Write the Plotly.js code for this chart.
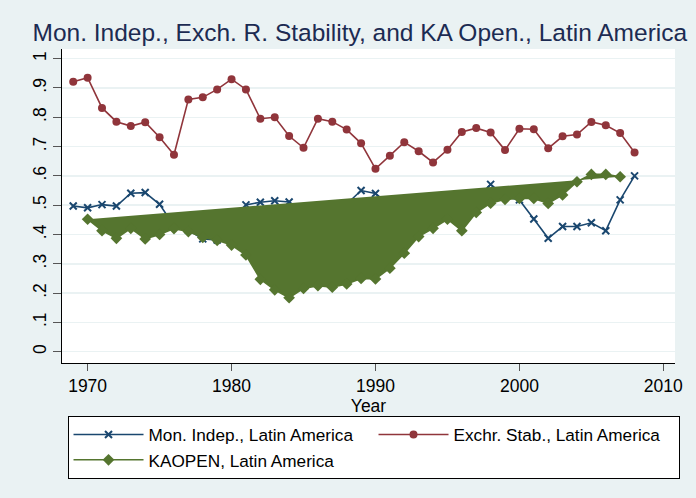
<!DOCTYPE html>
<html>
<head>
<meta charset="utf-8">
<script src="https://cdn.plot.ly/plotly-3.0.1.min.js"></script>
<style>html,body{margin:0;padding:0;background:#eaf2f3;}#chart{width:696px;height:498px;}</style>
</head>
<body>
<div id="chart"></div>
<script>
var years = [1969,1970,1971,1972,1973,1974,1975,1976,1977,1978,1979,1980,1981,1982,1983,1984,1985,1986,1987,1988,1989,1990,1991,1992,1993,1994,1995,1996,1997,1998,1999,2000,2001,2002,2003,2004,2005,2006,2007,2008];
var monIndep = [0.497,0.491,0.502,0.497,0.541,0.543,0.503,0.43,0.415,0.385,0.381,0.42,0.501,0.51,0.515,0.511,0.48,0.47,0.49,0.504,0.55,0.54,0.50,0.49,0.47,0.48,0.50,0.49,0.52,0.571,0.53,0.518,0.453,0.387,0.427,0.427,0.440,0.413,0.518,0.600];
var exchStab = [0.921,0.935,0.832,0.785,0.770,0.783,0.732,0.672,0.861,0.868,0.895,0.930,0.895,0.795,0.800,0.736,0.696,0.795,0.785,0.758,0.711,0.624,0.669,0.715,0.684,0.646,0.689,0.750,0.763,0.748,0.688,0.761,0.759,0.694,0.735,0.741,0.784,0.773,0.746,0.680];
var kaYears = [1970,1971,1972,1973,1974,1975,1976,1977,1978,1979,1980,1981,1982,1983,1984,1985,1986,1987,1988,1989,1990,1991,1992,1993,1994,1995,1996,1997,1998,1999,2000,2001,2002,2003,2004,2005,2006,2007];
var kaopen = [0.452,0.413,0.387,0.421,0.385,0.40,0.42,0.41,0.39,0.38,0.364,0.33,0.247,0.211,0.184,0.216,0.225,0.220,0.231,0.250,0.248,0.285,0.336,0.393,0.421,0.452,0.413,0.475,0.507,0.520,0.523,0.523,0.506,0.535,0.580,0.605,0.605,0.597];
var xTicks = [1970,1980,1990,2000,2010];
var yTicks = [0,0.1,0.2,0.3,0.4,0.5,0.6,0.7,0.8,0.9,1];
var yTickText = ["0",".1",".2",".3",".4",".5",".6",".7",".8",".9","1"];

var navy = '#1a476f', maroon = '#90353b', green = '#55752f';
var traces = [
  {x: years, y: monIndep, type:'scatter', mode:'lines+markers', name:'Mon. Indep., Latin America',
   line:{color:navy, width:1.6}, marker:{symbol:'x-thin', size:7, color:navy, line:{color:navy, width:2}}},
  {x: years, y: exchStab, type:'scatter', mode:'lines+markers', name:'Exchr. Stab., Latin America',
   line:{color:maroon, width:1.6}, marker:{symbol:'circle', size:8, color:maroon}},
  {x: kaYears, y: kaopen, type:'scatter', mode:'lines', fill:'toself', fillcolor:green,
   line:{color:green, width:0}, showlegend:false, hoverinfo:'skip'},
  {x: kaYears, y: kaopen, type:'scatter', mode:'lines+markers', name:'KAOPEN, Latin America',
   line:{color:green, width:1.6}, marker:{symbol:'diamond', size:9, color:green}}
];
var layout = {
  width:696, height:498,
  paper_bgcolor:'#eaf2f3', plot_bgcolor:'#ffffff',
  margin:{l:62, r:21, t:49, b:135},
  font:{family:'Liberation Sans, Arial, sans-serif', color:'#000'},
  title:{text:'Mon. Indep., Exch. R. Stability, and KA Open., Latin America',
    font:{size:24.5, color:'#1c2b52', family:'Liberation Sans, Arial, sans-serif'},
    x:0.517, xanchor:'center', xref:'container', y:0.934, yanchor:'middle', yref:'container'},
  xaxis:{range:[1968.22,2010.81], tickvals:xTicks, ticks:'outside', ticklen:7, tickcolor:'#555', tickwidth:1,
    showline:true, linecolor:'#000', linewidth:1, showgrid:false, zeroline:false,
    tickfont:{size:17.5}, title:{text:'Year', font:{size:17.5}, standoff:0}},
  yaxis:{range:[-0.0386,1.033], tickvals:yTicks, ticktext:yTickText, tickangle:-90, ticks:'outside', ticklen:8,
    tickcolor:'#555', tickwidth:1, showline:true, linecolor:'#000', linewidth:1,
    showgrid:true, gridcolor:'#eaf2f3', gridwidth:1.5, zeroline:false, tickfont:{size:17.5}},
  legend:{orientation:'h', x:0.009, xanchor:'left', y:-0.168, yanchor:'top',
    bgcolor:'#ffffff', bordercolor:'#000', borderwidth:1, font:{size:17.2},
    itemwidth:70, entrywidth:220, entrywidthmode:'pixels', tracegroupgap:0},
  showlegend:true
};
Plotly.newPlot('chart', traces, layout, {displayModeBar:false, staticPlot:true});
</script>
</body>
</html>
